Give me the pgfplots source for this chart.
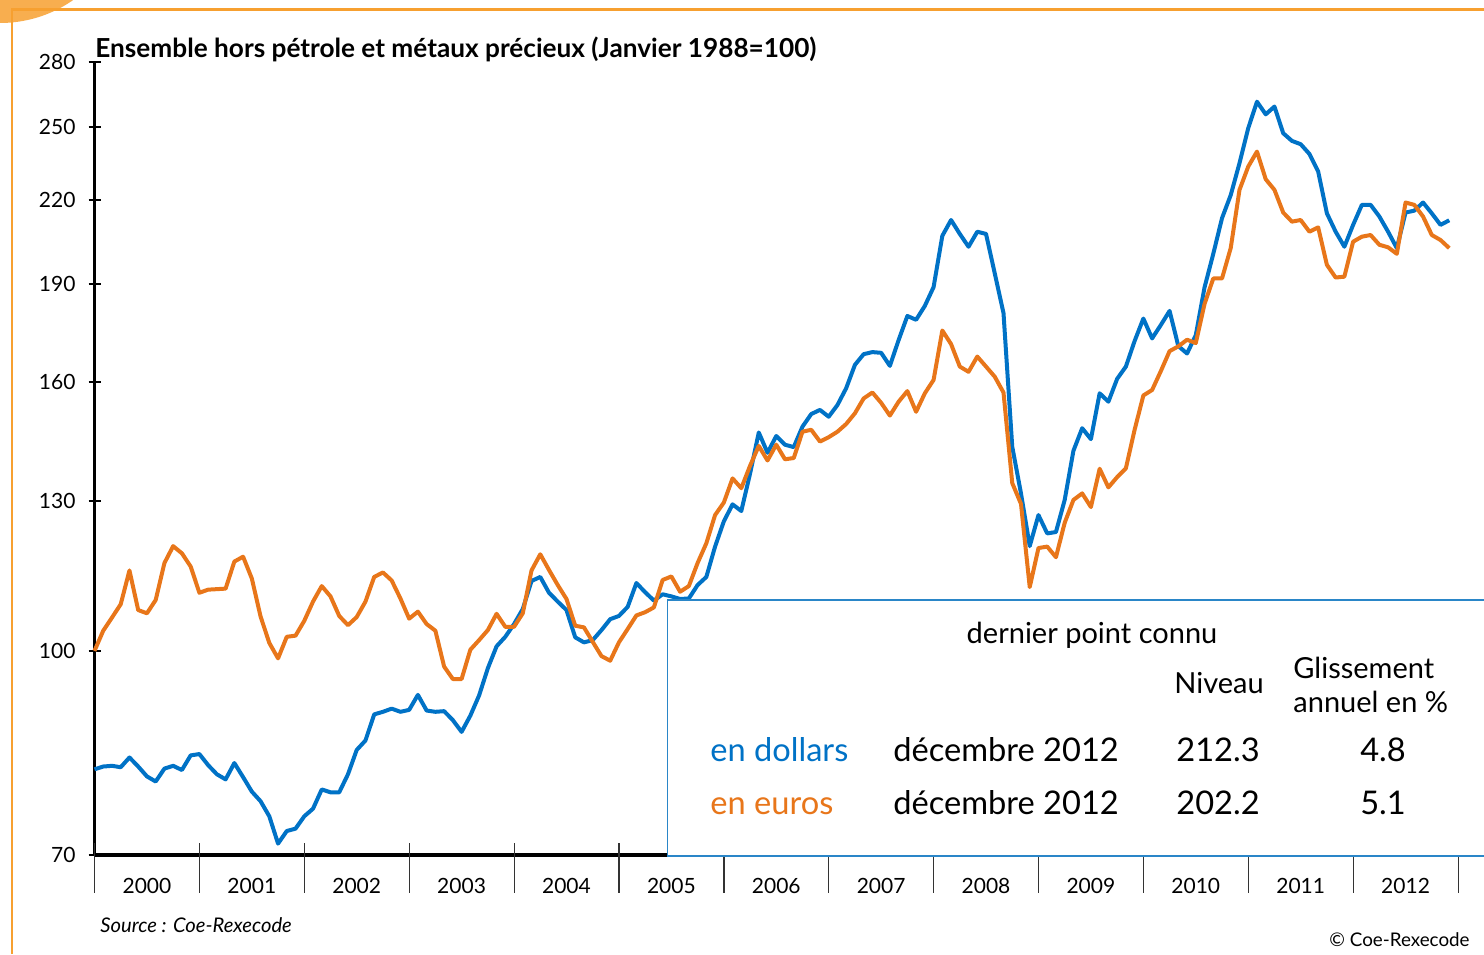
\documentclass[border=0pt]{standalone}
\usepackage{fontspec}
\setmainfont{Lato}
\usepackage{pgfplots}
\pgfplotsset{compat=1.18}

\definecolor{dollarblue}{HTML}{0072C6}
\definecolor{euroorange}{HTML}{E8761A}
\definecolor{boxblue}{HTML}{2A86C8}
\definecolor{frameorange}{HTML}{F7A030}

% month index: 0 = janvier 2000, 155 = decembre 2012
\pgfplotstableread{
m v
0 81.3
1 81.7
2 81.8
3 81.6
4 83.0
5 81.7
6 80.3
7 79.6
8 81.4
9 81.8
10 81.2
11 83.3
12 83.5
13 81.9
14 80.6
15 79.9
16 82.2
17 80.2
18 78.2
19 76.9
20 74.9
21 71.4
22 73.0
23 73.3
24 74.9
25 75.9
26 78.5
27 78.1
28 78.1
29 80.6
30 84.1
31 85.5
32 89.5
33 89.9
34 90.4
35 89.9
36 90.2
37 92.6
38 90.1
39 89.9
40 90.0
41 88.6
42 86.8
43 89.3
44 92.5
45 97.0
46 100.8
47 102.5
48 104.8
49 107.6
50 113.0
51 113.8
52 110.7
53 109.0
54 107.4
55 102.4
56 101.5
57 101.9
58 103.7
59 105.7
60 106.3
61 108.0
62 112.6
63 110.8
64 109.2
65 110.4
66 110.0
67 109.5
68 109.6
69 112.2
70 113.8
71 120.0
72 125.4
73 129.2
74 127.7
75 136.3
76 146.5
77 141.4
78 145.6
79 143.4
80 142.8
81 148.0
82 151.3
83 152.4
84 150.6
85 153.7
86 158.3
87 164.9
88 168.0
89 168.6
90 168.4
91 164.6
92 172.2
93 179.6
94 178.4
95 182.8
96 188.9
97 206.6
98 212.4
99 207.3
100 202.7
101 208.1
102 207.3
103 193.5
104 180.5
105 142.9
106 131.7
107 120.1
108 126.8
109 122.8
110 123.1
111 130.2
112 141.9
113 147.6
114 144.8
115 156.9
116 154.6
117 160.9
118 164.4
119 171.9
120 178.8
121 172.7
122 176.8
123 181.2
124 170.4
125 168.2
126 173.7
127 188.8
128 200.2
129 213.1
130 221.9
131 234.6
132 249.4
133 261.2
134 255.5
135 259.0
136 247.2
137 243.9
138 242.5
139 238.4
140 231.2
141 214.9
142 208.1
143 202.7
144 210.6
145 218.1
146 218.1
147 213.7
148 208.1
149 202.2
150 215.2
151 215.9
152 219.0
153 214.9
154 210.6
155 212.3
}\dollars

\pgfplotstableread{
m v
0 100.0
1 103.6
2 106.0
3 108.5
4 115.1
5 107.4
6 106.8
7 109.3
8 116.6
9 120.1
10 118.6
11 115.9
12 110.7
13 111.3
14 111.4
15 111.5
16 116.9
17 117.9
18 113.5
19 106.2
20 101.4
21 98.7
22 102.5
23 102.7
24 105.4
25 109.0
26 112.0
27 110.0
28 106.3
29 104.6
30 106.1
31 109.0
32 113.8
33 114.7
34 113.1
35 109.6
36 105.8
37 107.1
38 104.8
39 103.6
40 97.3
41 95.2
42 95.2
43 100.2
44 101.9
45 103.7
46 106.7
47 104.3
48 104.3
49 106.8
50 115.1
51 118.4
52 115.2
53 112.2
54 109.5
55 104.5
56 104.2
57 101.6
58 99.1
59 98.3
60 101.5
61 103.9
62 106.4
63 107.0
64 107.9
65 113.2
66 113.9
67 110.9
68 112.0
69 116.6
70 120.7
71 126.8
72 129.6
73 135.2
74 132.9
75 138.2
76 143.1
77 139.5
78 143.4
79 139.8
80 140.1
81 146.7
82 147.2
83 144.2
84 145.3
85 146.7
86 148.7
87 151.5
88 155.5
89 157.1
90 154.3
91 150.9
92 154.6
93 157.5
94 151.9
95 156.9
96 160.6
97 175.1
98 171.0
99 164.4
100 162.9
101 167.3
102 164.4
103 161.5
104 157.1
105 134.1
106 129.3
107 111.8
108 119.7
109 120.0
110 117.8
111 125.1
112 130.2
113 131.7
114 128.6
115 137.5
116 133.1
117 135.5
118 137.6
119 147.2
120 156.3
121 157.8
122 163.1
123 168.9
124 170.3
125 172.3
126 171.3
127 183.4
128 191.8
129 191.8
130 202.3
131 223.9
132 233.2
133 239.4
134 228.1
135 223.9
136 215.2
137 211.8
138 212.4
139 208.1
140 209.7
141 196.4
142 192.1
143 192.4
144 204.5
145 206.3
146 206.9
147 203.4
148 202.5
149 200.2
150 219.0
151 218.1
152 213.7
153 206.9
154 205.1
155 202.2
}\euros

\begin{document}
\begin{tikzpicture}
% pixel frame: (0,0) top left, (1484,954) bottom right
\begin{scope}[x=0.5pt,y=-0.5pt,yshift=477pt]
  \path[use as bounding box] (0,0) rectangle (1484,954);
  \begin{scope}
    \clip (0,0) rectangle (1484,954);
    \fill[frameorange!85] (0,-105) circle (128);
  \end{scope}
  \draw[frameorange, line width=1.2pt] (12,954) -- (12,9.5) -- (1484,9.5);
\end{scope}

\begin{axis}[
  at={(47.25pt,49.5pt)}, anchor=south west,
  scale only axis,
  width=681.75pt, height=396.5pt,
  xmin=0, xmax=156,
  ymode=log, ymin=70, ymax=280,
  axis x line*=bottom, axis y line*=left,
  axis line style={black, line width=1.6pt},
  ytick={70,100,130,160,190,220,250,280},
  yticklabels={70,100,130,160,190,220,250,280},
  xtick={6,18,...,150},
  xticklabels={2000,2001,2002,2003,2004,2005,2006,2007,2008,2009,2010,2011,2012},
  xtick style={draw=none},
  ytick style={black, line width=0.8pt},
  tick align=center,
  major tick length=6pt,
  tick label style={font=\fontsize{10.5}{12}\selectfont},
  yticklabel style={anchor=east, xshift=-3pt},
  xticklabel style={anchor=base, yshift=-16.5pt},
  clip=false,
]
\addplot[dollarblue, line width=2pt, line join=round] table[x=m, y=v] {\dollars};
\addplot[euroorange, line width=2pt, line join=round] table[x=m, y=v] {\euros};
\end{axis}

\begin{scope}[x=0.5pt,y=-0.5pt,yshift=477pt]
  % year boundaries
  \foreach \k in {0,...,13} {
    \draw[black!80, line width=0.6pt] ({94.5+104.9*\k},843) -- ({94.5+104.9*\k},893);
  }
  % box
  \begin{scope}
    \clip (0,0) rectangle (1484,954);
    \draw[boxblue, fill=white, line width=0.8pt] (667.5,600) rectangle (1495,856);
  \end{scope}
  \node[anchor=base west, font=\bfseries\fontsize{13.1}{15}\selectfont, inner sep=0pt]
    at (95,58) {Ensemble hors pétrole et métaux précieux (Janvier 1988=100)};
  \begin{scope}[every node/.style={inner sep=0pt, font=\fontsize{14.5}{17}\selectfont}]
    \node[anchor=base] at (1092,644) {dernier point connu};
    \node[anchor=base] at (1219,694) {Niveau};
    \node[anchor=base west] at (1293,679) {Glissement};
    \node[anchor=base west] at (1293,712) {annuel en \%};
  \end{scope}
  \begin{scope}[every node/.style={inner sep=0pt, font=\fontsize{16.3}{19}\selectfont}]
    \node[anchor=base west, text=dollarblue] at (710,762) {en dollars};
    \node[anchor=base west] at (893,762) {décembre 2012};
    \node[anchor=base] at (1218,762) {212.3};
    \node[anchor=base] at (1383,762) {4.8};
    \node[anchor=base west, text=euroorange] at (710,814) {en euros};
    \node[anchor=base west] at (893,814) {décembre 2012};
    \node[anchor=base] at (1218,814) {202.2};
    \node[anchor=base] at (1383,814) {5.1};
  \end{scope}
  \node[anchor=base west, inner sep=0pt, font=\itshape\fontsize{10.1}{12}\selectfont] at (100,932) {Source : Coe-Rexecode};
  \node[anchor=base east, inner sep=0pt, font=\fontsize{9.4}{11}\selectfont] at (1470,946) {© Coe-Rexecode};
\end{scope}
\end{tikzpicture}
\end{document}
